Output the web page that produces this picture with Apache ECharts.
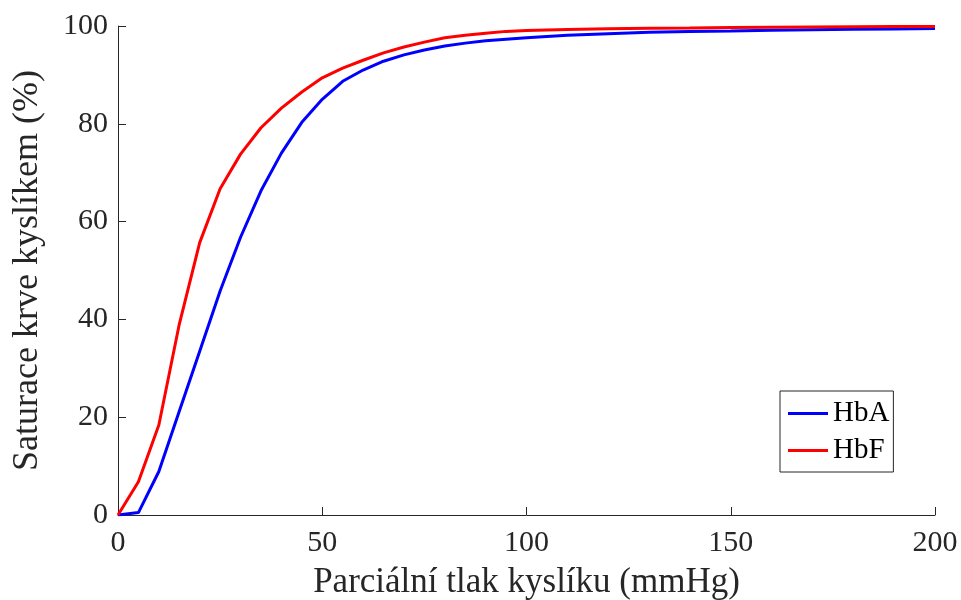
<!DOCTYPE html>
<html>
<head>
<meta charset="utf-8">
<script src="https://cdn.jsdelivr.net/npm/echarts@6/dist/echarts.min.js"></script>
<style>
  html, body { margin: 0; padding: 0; background: #fff; }
  #chart { width: 961px; height: 600px; }
</style>
</head>
<body>
<div id="chart"></div>
<script>
// Partial pressure of oxygen (mmHg)
const pO2 = [0, 5, 10, 15, 20, 25, 30, 35, 40, 45, 50, 55, 60, 65, 70, 75, 80, 85, 90, 95, 100,
             110, 120, 130, 140, 150, 160, 170, 180, 190, 200];
// Oxygen saturation (%) – adult haemoglobin
const hbA = [0, 0.5, 8.9, 21.2, 33.5, 45.8, 56.8, 66.3, 74, 80.3, 85, 88.7, 91, 92.8, 94.1, 95.1, 95.9, 96.5, 97, 97.3, 97.6,
             98.1, 98.4, 98.7, 98.9, 99.0, 99.15, 99.25, 99.35, 99.4, 99.5];
// Oxygen saturation (%) – fetal haemoglobin
const hbF = [0, 6.8, 18.4, 39, 55.7, 66.7, 73.8, 79.2, 83.2, 86.5, 89.4, 91.4, 93, 94.5, 95.7, 96.7, 97.6, 98.1, 98.5, 98.9, 99.1,
             99.3, 99.45, 99.55, 99.6, 99.7, 99.75, 99.8, 99.85, 99.88, 99.9];

const seriesNames = ['HbA', 'HbF'];
const xTitle = 'Parciální tlak kyslíku (mmHg)';
const yTitle = 'Saturace krve kyslíkem (%)';

const font = 'Liberation Serif, Times New Roman, serif';
const ink = '#262626';

const pairs = (ys) => pO2.map((x, i) => [x, ys[i]]);

const chart = echarts.init(document.getElementById('chart'), null, { renderer: 'canvas' });
chart.setOption({
  animation: false,
  backgroundColor: '#fff',
  grid: { left: 118, right: 26, top: 26, bottom: 85, containLabel: false, outerBoundsMode: 'none' },
  xAxis: {
    type: 'value', min: 0, max: 200, interval: 50,
    name: xTitle, nameLocation: 'middle', nameGap: 50,
    nameTextStyle: { fontFamily: font, fontSize: 35, color: ink },
    axisLine: { show: true, lineStyle: { color: ink, width: 1 } },
    axisTick: { show: true, inside: true, length: 8, lineStyle: { color: ink } },
    axisLabel: { fontFamily: font, fontSize: 30, color: ink, margin: 13 },
    splitLine: { show: false }
  },
  yAxis: {
    type: 'value', min: 0, max: 100, interval: 20,
    name: yTitle, nameLocation: 'middle', nameGap: 72, nameRotate: 90,
    nameTextStyle: { fontFamily: font, fontSize: 36, color: ink },
    axisLine: { show: true, lineStyle: { color: ink, width: 1 } },
    axisTick: { show: true, inside: true, length: 8, lineStyle: { color: ink } },
    axisLabel: { fontFamily: font, fontSize: 30, color: ink, margin: 10 },
    splitLine: { show: false }
  },
  legend: {
    orient: 'vertical',
    left: 780, top: 391,
    data: seriesNames,
    icon: 'rect',
    itemWidth: 40, itemHeight: 3,
    itemGap: 8,
    padding: [8, 4, 7, 8],
    borderColor: ink, borderWidth: 1,
    backgroundColor: '#fff',
    textStyle: { fontFamily: font, fontSize: 29, color: '#000' }
  },
  series: [
    {
      name: seriesNames[0], type: 'line', data: pairs(hbA),
      showSymbol: false, symbol: 'none',
      lineStyle: { color: '#0000ff', width: 3 }, itemStyle: { color: '#0000ff' }
    },
    {
      name: seriesNames[1], type: 'line', data: pairs(hbF),
      showSymbol: false, symbol: 'none',
      lineStyle: { color: '#ff0000', width: 3 }, itemStyle: { color: '#ff0000' }
    }
  ]
});
</script>
</body>
</html>
